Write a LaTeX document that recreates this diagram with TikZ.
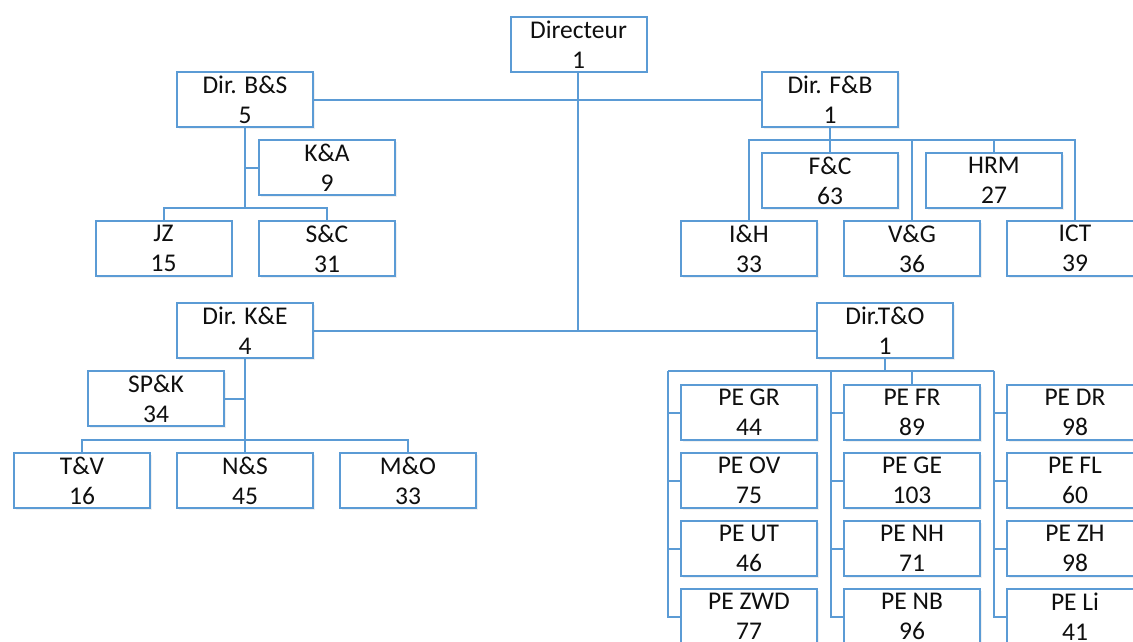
\documentclass[tikz,border=0pt]{standalone}
\usepackage{fontspec}
\setmainfont{Carlito}
\usetikzlibrary{positioning, calc, shadows, backgrounds}

\definecolor{orgblue}{RGB}{91,155,213}
\definecolor{orgtext}{RGB}{15,15,15}

\begin{document}
\begin{tikzpicture}[x=1pt, y=-1pt,
            unit/.style={rectangle, draw=orgblue, line width=2pt, fill=white, align=center,
              text=orgtext, font=\fontsize{25.5}{30}\selectfont, inner sep=0pt,
              minimum width=136pt, minimum height=55pt,
              drop shadow={opacity=0.12, shadow xshift=1.5pt, shadow yshift=-1.5pt}},
            link/.style={draw=orgblue, line width=2pt}]

            \useasboundingbox (0,0) rectangle (1133,642);
            \clip (0,0) rectangle (1133,642);

            % top level
            \node[unit] (dir) at (578.5, 44.5) {Directeur\\1};
            \node[unit] (dirBS) at (245, 99.5) {Dir. B\&S\\5};
            \node[unit] (dirFB) at (830, 99.5) {Dir. F\&B\\1};
            \node[unit] (dirKE) at (245, 330.5) {Dir. K\&E\\4};
            \node[unit] (dirTO) at (885, 330.5) {Dir.T\&O\\1};

            % B&S
            \node[unit] (KA) at (327, 167.5) {K\&A\\9};
            \node[unit] (JZ) at (163.5, 248.5) {JZ\\15};
            \node[unit] (SC) at (327, 248.5) {S\&C\\31};

            % F&B
            \node[unit] (FC) at (830, 180.5) {F\&C\\63};
            \node[unit] (HRM) at (994, 180.5) {HRM\\27};
            \node[unit] (IH) at (749, 248.5) {I\&H\\33};
            \node[unit] (VG) at (912, 248.5) {V\&G\\36};
            \node[unit] (ICT) at (1075, 248.5) {ICT\\39};

            % K&E
            \node[unit] (SPK) at (156, 398.5) {SP\&K\\34};
            \node[unit] (TV) at (82, 480.5) {T\&V\\16};
            \node[unit] (NS) at (245, 480.5) {N\&S\\45};
            \node[unit] (MO) at (408, 480.5) {M\&O\\33};

            % T&O
            \foreach \lbl/\val [count=\r] in {PE GR/44, PE OV/75, PE UT/46, PE ZWD/77}
              \node[unit] (pa\r) at (749, {344.5+68*\r}) {\lbl\\\val};
            \foreach \lbl/\val [count=\r] in {PE FR/89, PE GE/103, PE NH/71, PE NB/96}
              \node[unit] (pb\r) at (912, {344.5+68*\r}) {\lbl\\\val};
            \foreach \lbl/\val [count=\r] in {PE DR/98, PE FL/60, PE ZH/98, PE Li/41}
              \node[unit] (pc\r) at (1075, {344.5+68*\r}) {\lbl\\\val};

            \coordinate (topbar) at (578, 330.5);
            \coordinate (bsbar) at (245, 208);
            \coordinate (fbbar) at (830, 140);
            \coordinate (kebar) at (245, 440);
            \coordinate (tobar) at (885, 371);
            \coordinate (sa) at (668, 371);
            \coordinate (sb) at (831, 371);
            \coordinate (sc) at (994, 371);

            \begin{scope}[on background layer]
            \draw[link] (dir.south -| topbar) -- (topbar);
            \draw[link] (dirBS.east) -- (dirFB.west);
            \draw[link] (dirKE.east) -- (dirTO.west);

            \draw[link, line width=2.8pt] (dirBS.south) -- (bsbar);
            \draw[link] (KA.west) -- (KA.west -| bsbar);
            \draw[link] (JZ.north) |- (bsbar) -| (SC.north);

            \draw[link] (dirFB.south) -- (FC.north);
            \draw[link] (IH.north) |- (fbbar) -| (ICT.north);
            \draw[link] (VG.north) -- (VG.north |- fbbar);
            \draw[link] (HRM.north) -- (HRM.north |- fbbar);

            \draw[link] (dirKE.south) -- (NS.north);
            \draw[link] (SPK.east) -- (SPK.east -| kebar);
            \draw[link] (TV.north) |- (kebar) -| (MO.north);

            \draw[link, line width=2.8pt] (dirTO.south) -- (tobar);
            \draw[link] (sa) -- (sc);
            \draw[link] (pb1.north) -- (pb1.north |- tobar);
            \foreach \c in {a,b,c} {
              \draw[link] (s\c) |- (p\c4.west);
              \foreach \r in {1,2,3}
                \draw[link] (p\c\r.west) -- (p\c\r.west -| s\c);
            }
            \end{scope}
        \end{tikzpicture}
\end{document}
